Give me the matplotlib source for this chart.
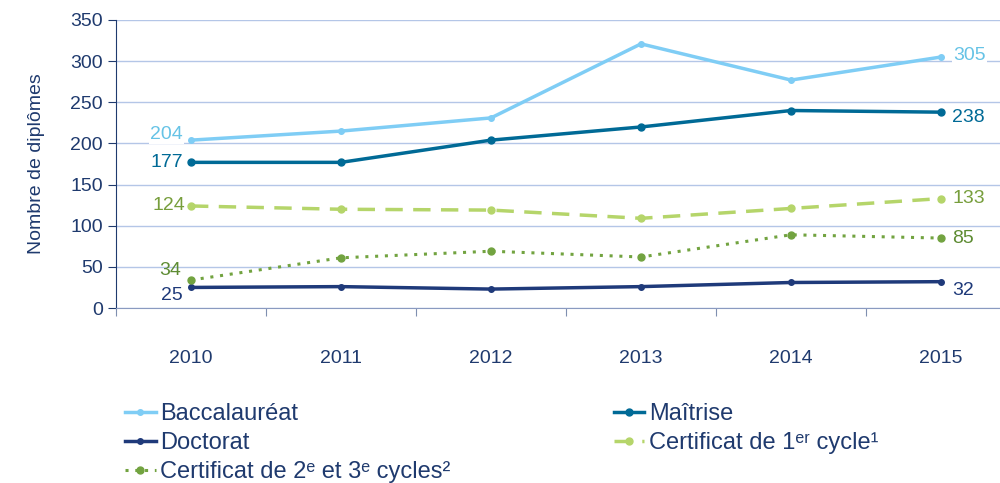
import matplotlib

matplotlib.use("Agg")
import matplotlib.pyplot as plt

years = ["2010", "2011", "2012", "2013", "2014", "2015"]
baccalaureat = [204, 215, 231, 321, 277, 305]
maitrise = [177, 177, 204, 220, 240, 238]
doctorat = [25, 26, 23, 26, 31, 32]
cert_1er = [124, 120, 119, 109, 121, 133]
cert_2e3e = [34, 61, 69, 62, 89, 85]

plt.rcParams["font.family"] = ["Liberation Sans", "DejaVu Sans"]

DARK = "#1F3A6E"
GRID = "#B4C6E7"

fig = plt.figure(figsize=(10, 4.83), dpi=100)
ax = fig.add_axes([0.116, 0.3623, 0.9, 0.5963])

x = range(len(years))
series = [
    ("Baccalauréat", baccalaureat, "#7FCDF5", "-", 2.5, 4, "#66C3E6"),
    ("Maîtrise", maitrise, "#006A96", "-", 2.5, 5, "#006A96"),
    ("Doctorat", doctorat, "#1F3A7A", "-", 2.5, 4, "#1F3A7A"),
    ("Certificat de 1ᵉʳ cycle¹", cert_1er, "#B5D56A", (0, (5, 3)), 2.5, 5, "#779E3C"),
    ("Certificat de 2ᵉ et 3ᵉ cycles²", cert_2e3e, "#72A340", (0, (1, 2.2)), 2.2, 5, "#5E8C33"),
]

lines = {}
for name, vals, color, ls, lw, ms, lcolor in series:
    (ln,) = ax.plot(x, vals, color=color, linestyle=ls, linewidth=lw,
                    marker="o", markersize=ms, label=name, zorder=3)
    lines[name] = ln

# offsets (points) for the first and last value labels
label_offsets = [
    ((-6, 4), (9, 1)),
    ((-6, 0), (8, -4)),
    ((-6, -6), (8, -6.5)),
    ((-4.5, 0), (8, 0)),
    ((-7, 7), (8, 0)),
]
for (name, vals, color, ls, lw, ms, lcolor), (lo, ro) in zip(series, label_offsets):
    box = dict(facecolor="white", edgecolor="none", pad=1) if name == "Baccalauréat" else None
    ax.annotate(str(vals[0]), (0, vals[0]), xytext=lo, textcoords="offset points",
                ha="right", va="center", fontsize=14, color=lcolor, bbox=box, zorder=4)
    ax.annotate(str(vals[-1]), (len(vals) - 1, vals[-1]), xytext=ro, textcoords="offset points",
                ha="left", va="center", fontsize=14, color=lcolor, bbox=box, zorder=4)

ax.set_xlim(-0.5, 5.5)
ax.set_ylim(0, 350)
ax.set_yticks(range(0, 351, 50))
ax.set_xticks([i - 0.5 for i in range(6)])
ax.set_xticks(list(x), minor=True)
ax.set_xticklabels([])
ax.set_xticklabels(years, minor=True)
ax.tick_params(axis="x", which="major", length=6, color="#7F8FB0", direction="out")
ax.tick_params(axis="x", which="minor", length=0, pad=30, labelsize=14, labelcolor=DARK)
ax.tick_params(axis="y", length=6, color=DARK, labelsize=14, labelcolor=DARK)

ax.grid(axis="y", color=GRID, linewidth=1)
ax.set_axisbelow(True)
for side in ("top", "right"):
    ax.spines[side].set_visible(False)
ax.spines["left"].set_color(DARK)
ax.spines["bottom"].set_color("#8A9AC0")

ax.set_ylabel("Nombre de diplômes", fontsize=14, color=DARK, labelpad=18)

order = ["Baccalauréat", "Doctorat", series[4][0], "Maîtrise", series[3][0]]
leg = fig.legend([lines[n] for n in order], order, loc="upper left",
                 bbox_to_anchor=(0.125, 0.165), ncol=2, frameon=False,
                 fontsize=17, handlelength=1.3, handletextpad=0.2,
                 columnspacing=6.9, labelspacing=0.3, borderaxespad=0, borderpad=0)
for t in leg.get_texts():
    t.set_color(DARK)

fig.savefig("out.png", dpi=100)
